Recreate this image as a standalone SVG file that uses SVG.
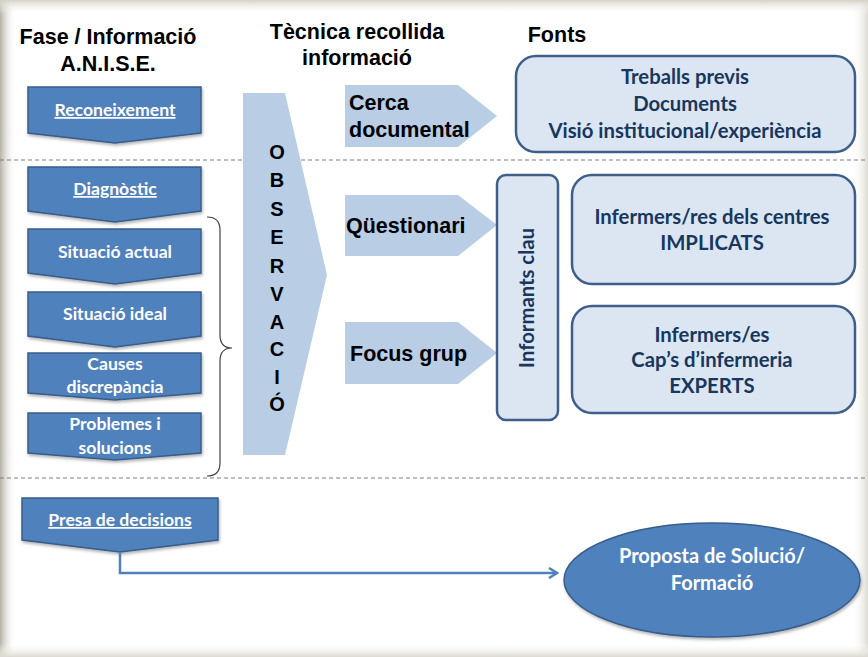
<svg xmlns="http://www.w3.org/2000/svg" width="868" height="657" viewBox="0 0 868 657">
<defs>
<linearGradient id="gL" x1="0" y1="0" x2="1" y2="0"><stop offset="0" stop-color="#b5b1a5"/><stop offset="1" stop-color="#ffffff" stop-opacity="0"/></linearGradient>
<linearGradient id="gR" x1="1" y1="0" x2="0" y2="0"><stop offset="0" stop-color="#dedbd1"/><stop offset="1" stop-color="#ffffff" stop-opacity="0"/></linearGradient>
<linearGradient id="gT" x1="0" y1="0" x2="0" y2="1"><stop offset="0" stop-color="#d4d1c6"/><stop offset="1" stop-color="#ffffff" stop-opacity="0"/></linearGradient>
<linearGradient id="gB" x1="0" y1="1" x2="0" y2="0"><stop offset="0" stop-color="#dcd9cf"/><stop offset="1" stop-color="#ffffff" stop-opacity="0"/></linearGradient>
<filter id="sh" x="-10%" y="-10%" width="130%" height="140%"><feDropShadow dx="1" dy="2" stdDeviation="1.5" flood-color="#000" flood-opacity="0.3"/></filter>
<marker id="arr" viewBox="0 0 12 12" refX="10" refY="6" markerWidth="12" markerHeight="12" markerUnits="userSpaceOnUse" orient="auto"><path d="M2,1 L10,6 L2,11" fill="none" stroke="#4F81BD" stroke-width="2.5"/></marker>
<style>
.hd{font-family:"Liberation Sans",Arial,sans-serif;font-weight:bold;font-size:21.5px;fill:#000;text-anchor:middle}
.chev{fill:#4F81BD;stroke:#385D8A;stroke-width:1.5;filter:url(#sh)}
.wt{font-family:Lato,"Open Sans",sans-serif;font-weight:bold;font-size:17.6px;fill:#fff;text-anchor:middle}
.lb{fill:#B9CDE5}
.bt{font-family:"Liberation Sans",Arial,sans-serif;font-weight:bold;font-size:21.5px;fill:#000}
.obs{font-family:"Liberation Sans",Arial,sans-serif;font-weight:bold;font-size:20px;fill:#000;text-anchor:middle}
.rb{fill:#DCE6F2;stroke:#3F5F8A;stroke-width:2.5}
.dt{font-family:Lato,"Open Sans",sans-serif;font-weight:bold;font-size:20.3px;fill:#17375E;text-anchor:middle}
.dash{stroke:#7f7f7f;stroke-width:1.2;stroke-dasharray:4 3;fill:none}
</style>
</defs>
<rect width="868" height="657" fill="#fff"/>
<rect x="0" y="0" width="16" height="657" fill="url(#gL)"/>
<rect x="852" y="0" width="16" height="657" fill="url(#gR)"/>
<rect x="0" y="0" width="868" height="14" fill="url(#gT)"/>
<rect x="0" y="643" width="868" height="14" fill="url(#gB)"/>

<g id="headers">
<text class="hd" x="108" y="44">Fase / Informació</text>
<text class="hd" x="108" y="71">A.N.I.S.E.</text>
<text class="hd" x="357" y="39">Tècnica recollida</text>
<text class="hd" x="357" y="65">informació</text>
<text class="hd" x="557" y="42">Fonts</text>
</g>

<g id="separators">
<line class="dash" x1="0" y1="160" x2="868" y2="160"/>
<line class="dash" x1="0" y1="478" x2="868" y2="478"/>
</g>

<g id="reconeixement">
<path class="chev" d="M28,87 H201 V133 L115,143 L28,133 Z"/>
<text class="wt" x="115" y="116" text-decoration="underline">Reconeixement</text>
</g>
<g id="diagnostic">
<path class="chev" d="M28,167 H201 V211 L115,222 L28,211 Z"/>
<text class="wt" x="115" y="195" text-decoration="underline">Diagnòstic</text>
</g>
<g id="situacio-actual">
<path class="chev" d="M28,229 H201 V273 L115,284 L28,273 Z"/>
<text class="wt" x="115" y="258">Situació  actual</text>
</g>
<g id="situacio-ideal">
<path class="chev" d="M28,292 H201 V336 L115,347 L28,336 Z"/>
<text class="wt" x="115" y="320">Situació  ideal</text>
</g>
<g id="causes">
<path class="chev" d="M28,353 H201 V393 L115,400 L28,393 Z"/>
<text class="wt" x="115" y="370">Causes</text>
<text class="wt" x="115" y="393">discrepància</text>
</g>
<g id="problemes">
<path class="chev" d="M28,413 H201 V453 L115,460 L28,453 Z"/>
<text class="wt" x="115" y="430">Problemes  i</text>
<text class="wt" x="115" y="454">solucions</text>
</g>
<g id="presa">
<path class="chev" d="M22,498 H218 V540 L120,552 L22,540 Z"/>
<text class="wt" x="120" y="526" text-decoration="underline">Presa de decisions</text>
</g>

<g id="brace">
<path d="M207,217 Q220,217 220,230 L220,335 Q220,348 232,348 Q220,348 220,361 L220,463 Q220,476 207,476" fill="none" stroke="#404040" stroke-width="1.2"/>
</g>

<g id="observacio">
<polygon class="lb" points="243,93 285,93 327,275 285,455 243,455"/>
<text class="obs" x="277" y="159">O</text>
<text class="obs" x="277" y="187">B</text>
<text class="obs" x="277" y="216">S</text>
<text class="obs" x="277" y="244">E</text>
<text class="obs" x="277" y="273">R</text>
<text class="obs" x="277" y="301">V</text>
<text class="obs" x="277" y="329">A</text>
<text class="obs" x="277" y="356">C</text>
<text class="obs" x="277" y="384">I</text>
<text class="obs" x="277" y="411">Ó</text>
</g>

<g id="cerca">
<polygon class="lb" points="345,85 458,85 497,116 458,147 345,147"/>
<text class="bt" x="349" y="110">Cerca</text>
<text class="bt" x="349" y="137">documental</text>
</g>
<g id="questionari">
<polygon class="lb" points="345,195 458,195 497,225 458,256 345,256"/>
<text class="bt" x="346" y="233">Qüestionari</text>
</g>
<g id="focus">
<polygon class="lb" points="345,322 458,322 497,353 458,384 345,384"/>
<text class="bt" x="350" y="361">Focus grup</text>
</g>

<g id="fonts-docs">
<rect class="rb" x="516" y="56" width="339" height="96" rx="20"/>
<text class="dt" x="685" y="84">Treballs previs</text>
<text class="dt" x="685" y="111">Documents</text>
<text class="dt" x="685" y="138">Visió institucional/experiència</text>
</g>
<g id="informants">
<rect class="rb" x="497" y="175" width="61" height="245" rx="9"/>
<text class="dt" transform="translate(534,298) rotate(-90)">Informants clau</text>
</g>
<g id="implicats">
<rect class="rb" x="572" y="175" width="283" height="109" rx="20"/>
<text class="dt" x="712" y="224">Infermers/res dels centres</text>
<text class="dt" x="712" y="250">IMPLICATS</text>
</g>
<g id="experts">
<rect class="rb" x="572" y="306" width="283" height="107" rx="20"/>
<text class="dt" x="712" y="342">Infermers/es</text>
<text class="dt" x="712" y="367">Cap’s d’infermeria</text>
<text class="dt" x="712" y="393">EXPERTS</text>
</g>

<g id="proposta">
<ellipse cx="712" cy="580" rx="148" ry="57" fill="#4F81BD" stroke="#385D8A" stroke-width="1.5" filter="url(#sh)"/>
<text class="wt" x="712" y="563" style="font-size:20px">Proposta de Solució/</text>
<text class="wt" x="712" y="590" style="font-size:20px">Formació</text>
</g>

<g id="connectors">
<path d="M120,552 V573 H557" fill="none" stroke="#4F81BD" stroke-width="2.5" marker-end="url(#arr)"/>
</g>
</svg>
